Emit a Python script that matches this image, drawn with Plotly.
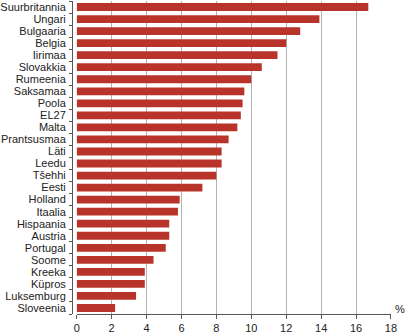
import plotly.graph_objects as go

countries = ["Suurbritannia", "Ungari", "Bulgaaria", "Belgia", "Iirimaa", "Slovakkia",
             "Rumeenia", "Saksamaa", "Poola", "EL27", "Malta", "Prantsusmaa", "Läti",
             "Leedu", "Tšehhi", "Eesti", "Holland", "Itaalia", "Hispaania", "Austria",
             "Portugal", "Soome", "Kreeka", "Küpros", "Luksemburg", "Sloveenia"]
values = [16.7, 13.9, 12.8, 12.0, 11.5, 10.6, 10.0, 9.6, 9.5, 9.4, 9.2, 8.7, 8.3,
          8.3, 8.0, 7.2, 5.9, 5.8, 5.3, 5.3, 5.1, 4.4, 3.9, 3.9, 3.4, 2.2]
x_ticks = [0, 2, 4, 6, 8, 10, 12, 14, 16, 18]

fig = go.Figure(go.Bar(
    x=values, y=countries, orientation="h",
    marker=dict(color="#b8342b", line=dict(width=0)),
))

fig.update_layout(
    width=405, height=334,
    margin=dict(l=72, r=14, t=1, b=20),
    paper_bgcolor="white", plot_bgcolor="white",
    bargap=0.35,
    showlegend=False,
    font=dict(family="Liberation Sans, Arial, sans-serif", size=11, color="#222"),
    xaxis=dict(
        domain=[0.0147, 1], range=[0, 18], tickvals=x_ticks,
        showgrid=True, gridcolor="#b4b4b4", gridwidth=1.2,
        zeroline=False, showline=True, linecolor="#555", linewidth=1,
        ticks="outside", ticklen=4, tickcolor="#555",
        tickfont=dict(size=11, color="#222"),
    ),
    yaxis=dict(
        anchor="free", position=0,
        categoryorder="array", categoryarray=countries, autorange="reversed",
        tickmode="array", tickvals=countries, ticktext=countries,
        showline=True, linecolor="#555", linewidth=1,
        ticks="outside", ticklen=3, tickcolor="#555", tickson="boundaries",
        ticklabelstandoff=4,
        showgrid=False, tickfont=dict(size=11, color="#222"),
    ),
    annotations=[dict(text="%", xref="paper", yref="paper", x=1, y=0,
                      xanchor="left", yanchor="middle", xshift=2, yshift=5,
                      showarrow=False, font=dict(size=11, color="#222"))],
)

fig.write_html("out.html")
